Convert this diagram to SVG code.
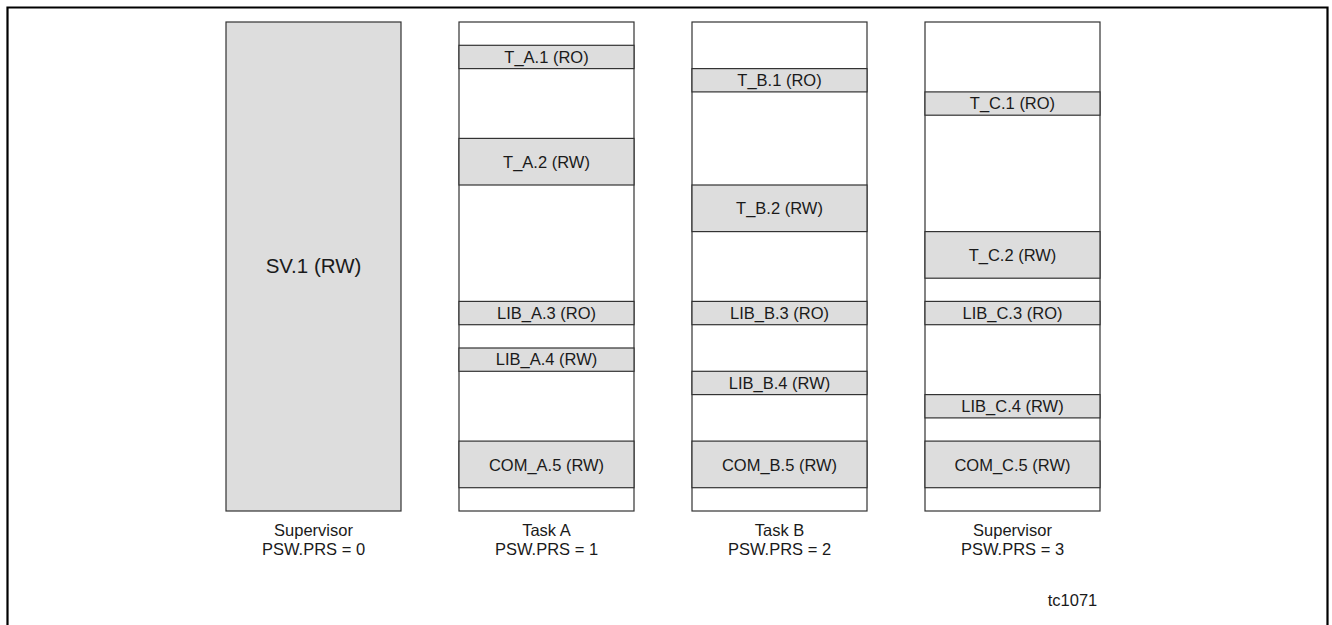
<svg xmlns="http://www.w3.org/2000/svg" width="1332" height="625" viewBox="0 0 1332 625">
<style>
.col{fill:#fff;stroke:#333;stroke-width:1.2}
.seg{fill:#dddddd;stroke:#333;stroke-width:1.2}
text{font-family:"Liberation Sans",Arial,sans-serif;fill:#1a1a1a;text-anchor:middle}
.s{font-size:16.5px}
.b{font-size:20.5px}
</style>
<rect width="1332" height="625" fill="#fff"/>
<path d="M7.5 630 V7.5 H1327.5 V630" fill="none" stroke="#000" stroke-width="2.2"/>
<g id="supervisor0">
<rect class="seg" x="226" y="22" width="175" height="489"/>
<text class="b" x="313.5" y="273">SV.1 (RW)</text>
<text class="s" x="313.5" y="535.5">Supervisor</text>
<text class="s" x="313.5" y="554.5">PSW.PRS = 0</text>
</g>
<g id="taskA">
<rect class="col" x="459" y="22" width="175" height="489"/>
<rect class="seg" x="459" y="45.3" width="175" height="23.3"/>
<text class="s" x="546.5" y="62.5">T_A.1 (RO)</text>
<rect class="seg" x="459" y="138.4" width="175" height="46.6"/>
<text class="s" x="546.5" y="167.5">T_A.2 (RW)</text>
<rect class="seg" x="459" y="301.4" width="175" height="23.3"/>
<text class="s" x="546.5" y="318.5">LIB_A.3 (RO)</text>
<rect class="seg" x="459" y="348" width="175" height="23.3"/>
<text class="s" x="546.5" y="365">LIB_A.4 (RW)</text>
<rect class="seg" x="459" y="441.1" width="175" height="46.6"/>
<text class="s" x="546.5" y="471">COM_A.5 (RW)</text>
<text class="s" x="546.5" y="535.5">Task A</text>
<text class="s" x="546.5" y="554.5">PSW.PRS = 1</text>
</g>
<g id="taskB">
<rect class="col" x="692" y="22" width="175" height="489"/>
<rect class="seg" x="692" y="68.6" width="175" height="23.3"/>
<text class="s" x="779.5" y="85.8">T_B.1 (RO)</text>
<rect class="seg" x="692" y="185" width="175" height="46.6"/>
<text class="s" x="779.5" y="214">T_B.2 (RW)</text>
<rect class="seg" x="692" y="301.4" width="175" height="23.3"/>
<text class="s" x="779.5" y="318.5">LIB_B.3 (RO)</text>
<rect class="seg" x="692" y="371.3" width="175" height="23.3"/>
<text class="s" x="779.5" y="388.5">LIB_B.4 (RW)</text>
<rect class="seg" x="692" y="441.1" width="175" height="46.6"/>
<text class="s" x="779.5" y="471">COM_B.5 (RW)</text>
<text class="s" x="779.5" y="535.5">Task B</text>
<text class="s" x="779.5" y="554.5">PSW.PRS = 2</text>
</g>
<g id="supervisor3">
<rect class="col" x="925" y="22" width="175" height="489"/>
<rect class="seg" x="925" y="91.9" width="175" height="23.3"/>
<text class="s" x="1012.5" y="109">T_C.1 (RO)</text>
<rect class="seg" x="925" y="231.6" width="175" height="46.6"/>
<text class="s" x="1012.5" y="260.5">T_C.2 (RW)</text>
<rect class="seg" x="925" y="301.4" width="175" height="23.3"/>
<text class="s" x="1012.5" y="318.5">LIB_C.3 (RO)</text>
<rect class="seg" x="925" y="394.6" width="175" height="23.3"/>
<text class="s" x="1012.5" y="411.8">LIB_C.4 (RW)</text>
<rect class="seg" x="925" y="441.1" width="175" height="46.6"/>
<text class="s" x="1012.5" y="471">COM_C.5 (RW)</text>
<text class="s" x="1012.5" y="535.5">Supervisor</text>
<text class="s" x="1012.5" y="554.5">PSW.PRS = 3</text>
</g>
<g id="connectors"></g>
<text class="s" x="1072.5" y="606">tc1071</text>
</svg>
